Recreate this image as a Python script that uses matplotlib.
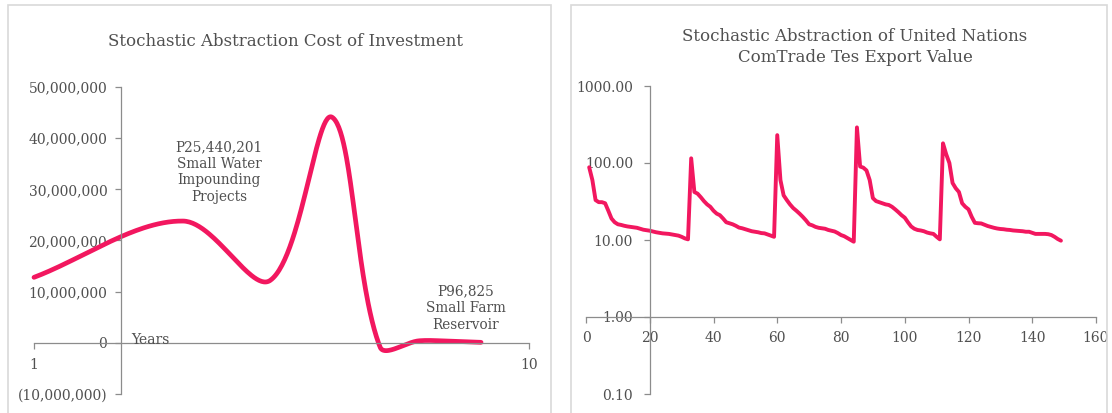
import numpy as np
import matplotlib
matplotlib.use("Agg")
import matplotlib.pyplot as plt
from matplotlib.patches import Rectangle
from matplotlib.ticker import FixedLocator, FuncFormatter, NullLocator

# ---- data -------------------------------------------------------------
years = [1, 2, 3, 4, 5, 6, 7, 8]
cost = [12_800_000, 23_800_000, 12_200_000, 44_100_000,
        -800_000, 400_000, 300_000, 96_825]

export_value = [
    88, 60, 33, 31, 31, 30, 24, 19, 17, 16,
    15.7, 15.3, 15, 14.8, 14.6, 14.4, 14, 13.6, 13.4, 13.2,
    12.9, 12.6, 12.4, 12.2, 12.1, 12, 11.8, 11.6, 11.4, 11.0,
    10.5, 10.2, 115, 42, 40, 36, 32, 29, 27, 24,
    22, 21, 19, 17, 16.5, 16, 15.3, 14.5, 14.2, 13.8,
    13.4, 13.0, 12.8, 12.6, 12.3, 12.2, 11.8, 11.4, 11.0, 230,
    60, 38, 33, 29, 26, 24, 22, 20, 18, 16,
    15.5, 14.8, 14.4, 14.2, 14, 13.5, 13.2, 12.9, 12.3, 11.6,
    11.2, 10.6, 10.0, 9.5, 290, 90, 87, 80, 60, 35,
    32, 31, 30, 29, 28.5, 27, 25, 23, 21, 19.5,
    17, 15, 14, 13.5, 13.3, 13, 12.5, 12.2, 12, 11.0,
    10.2, 180, 130, 100, 55, 47, 42, 30, 27, 25,
    20, 16.7, 16.5, 16.4, 15.8, 15.2, 14.8, 14.4, 14.1, 13.9,
    13.8, 13.6, 13.5, 13.3, 13.2, 13.1, 13.0, 12.8, 12.8, 12.4,
    12.0, 12.0, 12.0, 12.0, 11.9, 11.6, 11.0, 10.3, 9.8,
]
periods = list(range(1, len(export_value) + 1))

left_ticks = [1, 10]
left_yticks = [-10_000_000, 0, 10_000_000, 20_000_000, 30_000_000,
               40_000_000, 50_000_000]
right_xticks = [0, 20, 40, 60, 80, 100, 120, 140, 160]
right_yticks = [0.1, 1, 10, 100, 1000]

title_left = "Stochastic Abstraction Cost of Investment"
title_right = "Stochastic Abstraction of United Nations\nComTrade Tes Export Value"
note_swip = "P25,440,201\nSmall Water\nImpounding\nProjects"
note_sfr = "P96,825\nSmall Farm\nReservoir"

# ---- style ------------------------------------------------------------
W, H = 1112, 413
LINE = "#F2175F"
TEXT = "#505050"
AXIS = "#8c8c8c"
BORDER = "#d9d9d9"
TICK_FS = 10
plt.rcParams["font.family"] = ["DejaVu Serif"]

fig = plt.figure(figsize=(W / 100, H / 100), dpi=100)
fig.patch.set_facecolor("white")


def fx(px):
    return px / W


def fy(py):
    return 1 - py / H


def box(x0, y0, x1, y1):
    return [fx(x0), fy(y1), fx(x1) - fx(x0), fy(y0) - fy(y1)]


# panel frames
for x0, x1 in [(8, 551), (571, 1107)]:
    fig.patches.append(Rectangle((fx(x0), fy(H + 20)), fx(x1) - fx(x0),
                                 fy(5) - fy(H + 20), transform=fig.transFigure,
                                 fill=False, edgecolor=BORDER, lw=1.2))


def style_axes(ax):
    for s in ("top", "right"):
        ax.spines[s].set_visible(False)
    for s in ("left", "bottom"):
        ax.spines[s].set_color(AXIS)
        ax.spines[s].set_linewidth(0.9)
    ax.set_facecolor("none")
    ax.tick_params(colors=AXIS, labelcolor=TEXT, labelsize=TICK_FS,
                   direction="out", length=4, width=0.9)
    ax.xaxis.set_minor_locator(NullLocator())
    ax.yaxis.set_minor_locator(NullLocator())


def smooth_path(ax, xs, ys, n=60):
    """Bezier smoothing in display space with chord-weighted tangents."""
    P = ax.transData.transform(np.column_stack([xs, ys]))
    N = len(P)
    d = np.hypot(*np.diff(P, axis=0).T)
    s = np.linspace(0, 1, n)[:, None]
    pieces = []
    for i in range(N - 1):
        p0, p3 = P[i], P[i + 1]
        prev = P[i - 1] if i > 0 else p0
        nxt = P[i + 2] if i + 2 < N else p3
        dp = d[i - 1] if i > 0 else 0.0
        dn = d[i + 1] if i + 2 < N else 0.0
        c1 = p0 + (p3 - prev) / 3 * d[i] / (dp + d[i])
        c2 = p3 - (nxt - p0) / 3 * d[i] / (d[i] + dn)
        seg = ((1 - s) ** 3) * p0 + 3 * ((1 - s) ** 2) * s * c1 \
            + 3 * (1 - s) * s ** 2 * c2 + s ** 3 * p3
        pieces.append(seg if i == 0 else seg[1:])
    curve = np.vstack(pieces)
    return ax.transData.inverted().transform(curve).T


# ---- left: cost of investment -----------------------------------------
axL = fig.add_axes(box(34, 87, 529, 394))
axL.set_xscale("log")
axL.set_xlim(1, 10)
axL.set_ylim(-10_000_000, 50_000_000)
style_axes(axL)
axL.spines["left"].set_position(("data", 1.5))
axL.spines["bottom"].set_position(("data", 0))
axL.xaxis.set_major_locator(FixedLocator(left_ticks))
axL.xaxis.set_major_formatter(FuncFormatter(lambda v, p: f"{v:.0f}"))
axL.yaxis.set_major_locator(FixedLocator(left_yticks))
axL.yaxis.set_major_formatter(FuncFormatter(
    lambda v, p: f"({abs(v):,.0f})" if v < 0 else f"{v:,.0f}"))
axL.tick_params(axis="x", pad=7)
axL.tick_params(axis="y", pad=6)

sx, sy = smooth_path(axL, years, cost)
axL.plot(sx, sy, color=LINE, lw=3.4, solid_capstyle="round", clip_on=False)

axL.text(1.57, 600_000, "Years", color=TEXT, fontsize=TICK_FS,
         ha="left", va="center")

fig.text(fx(286), fy(42), title_left, color=TEXT, fontsize=12,
         ha="center", va="center")
fig.text(fx(219), fy(172), note_swip, color=TEXT, fontsize=9.8,
         ha="center", va="center", linespacing=1.25)
fig.text(fx(466), fy(308), note_sfr, color=TEXT, fontsize=9.8,
         ha="center", va="center", linespacing=1.25)

# ---- right: export value ----------------------------------------------
axR = fig.add_axes(box(586, 86, 1096, 394))
axR.set_yscale("log")
axR.set_xlim(0, 160)
axR.set_ylim(0.1, 1000)
style_axes(axR)
axR.spines["left"].set_position(("data", 20))
axR.spines["bottom"].set_position(("data", 1))
axR.xaxis.set_major_locator(FixedLocator(right_xticks))
axR.xaxis.set_major_formatter(FuncFormatter(lambda v, p: f"{v:.0f}"))
axR.yaxis.set_major_locator(FixedLocator(right_yticks))
axR.yaxis.set_major_formatter(FuncFormatter(lambda v, p: f"{v:.2f}"))
axR.tick_params(axis="x", pad=6)
axR.tick_params(axis="y", pad=8)

axR.plot(periods, export_value, color=LINE, lw=2.8,
         solid_joinstyle="round", solid_capstyle="round")

fig.text(fx(855), fy(47), title_right, color=TEXT, fontsize=12,
         ha="center", va="center", linespacing=1.3)

fig.savefig("out.png", dpi=100, facecolor="white")
